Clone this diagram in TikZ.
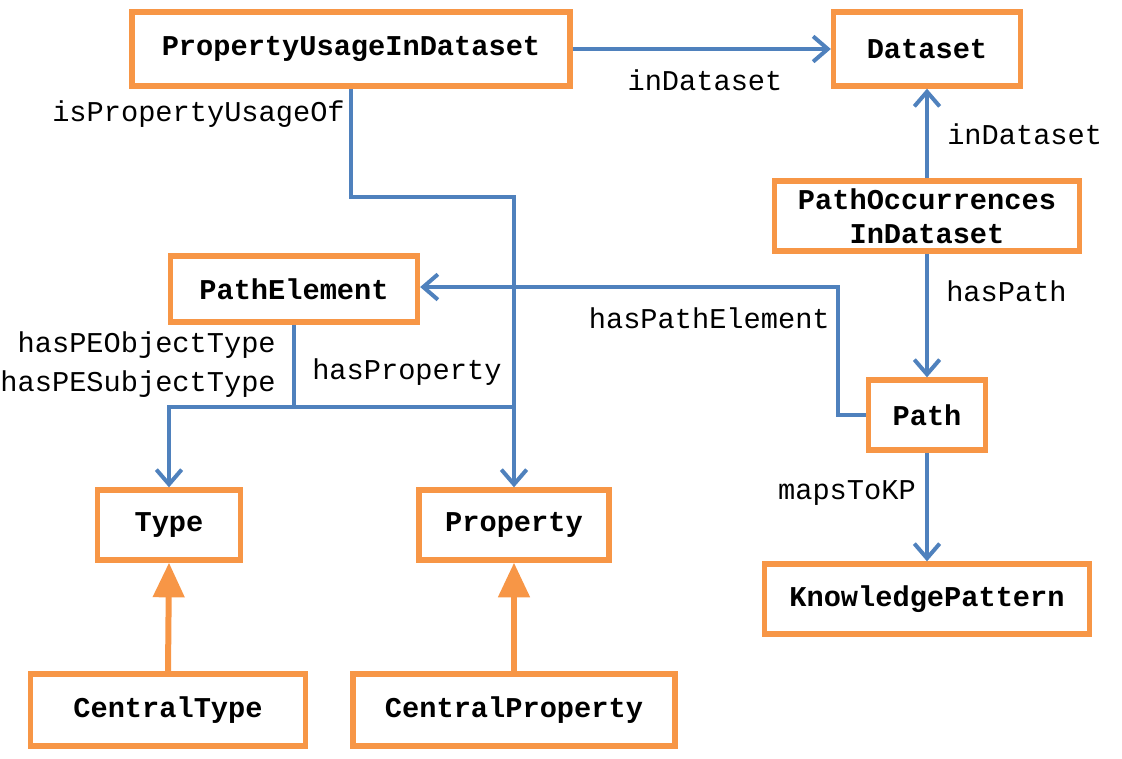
\documentclass[tikz,border=0pt]{standalone}
\usepackage{fontspec}
\setmonofont{Liberation Mono}
\usetikzlibrary{arrows.meta}
\definecolor{oboxc}{HTML}{F79646}
\definecolor{blinec}{HTML}{4F81BD}
\begin{document}
\begin{tikzpicture}[x=0.75pt,y=-0.75pt,
  cls/.style={draw=oboxc, line width=4pt, fill=white, inner sep=0pt, align=center,
    font=\ttfamily\bfseries\fontsize{21.5}{25.5}\selectfont},
  lbl/.style={inner sep=0pt, font=\ttfamily\fontsize{21.5}{25}\selectfont},
  rel/.style={draw=blinec, line width=3pt},
  barrow/.style={rel, -{Straight Barb[length=11pt,width=19pt]}},
  oarrow/.style={draw=oboxc, line width=4.5pt, -{Triangle[length=26pt,width=23pt]}}]
\useasboundingbox (0,0) rectangle (1122,758);

\node[cls, minimum width=438*0.75pt, minimum height=74*0.75pt] (puid) at (351,49) {PropertyUsageInDataset};
\node[cls, minimum width=187*0.75pt, minimum height=74*0.75pt] (ds) at (927,49) {Dataset};
\node[cls, minimum width=305*0.75pt, minimum height=70*0.75pt] (poid) at (927,216) {PathOccurrences\\InDataset};
\node[cls, minimum width=247*0.75pt, minimum height=66*0.75pt] (pe) at (294,289) {PathElement};
\node[cls, minimum width=117*0.75pt, minimum height=70*0.75pt] (path) at (927,415) {Path};
\node[cls, minimum width=143*0.75pt, minimum height=70*0.75pt] (type) at (169,525) {Type};
\node[cls, minimum width=190*0.75pt, minimum height=70*0.75pt] (prop) at (514,525) {Property};
\node[cls, minimum width=325*0.75pt, minimum height=70*0.75pt] (kp) at (927,599) {KnowledgePattern};
\node[cls, minimum width=275*0.75pt, minimum height=72*0.75pt] (ctype) at (168,710) {CentralType};
\node[cls, minimum width=322*0.75pt, minimum height=72*0.75pt] (cprop) at (514,710) {CentralProperty};

\coordinate (bend) at (514,197);
\coordinate (jL) at (169,407);
\coordinate (jR) at (514,407);
\coordinate (pk) at (838,287);

\draw[barrow] (puid.east) -- (ds.west);
\draw[barrow] (puid.south) |- (bend) -- (prop.north);
\draw[barrow] (poid.north) -- (ds.south);
\draw[barrow] (poid.south) -- (path.north);
\draw[barrow] (path.west) -| (pk) -- (pe.east |- pk);
\draw[rel] (pe.south) -- (pe.south |- jL);
\draw[barrow] (jR) -| (type.north);
\draw[barrow] (path.south) -- (kp.north);
\draw[oarrow] (ctype.north) -- (type.south);
\draw[oarrow] (cprop.north) -- (prop.south);

\node[lbl] (l1) at (705,80) {inDataset};
\node[lbl, anchor=east] (l2) at (345,114) {isPropertyUsageOf};
\node[lbl, anchor=west] (l3) at (947,134) {inDataset};
\node[lbl, anchor=west] (l4) at (946,291) {hasPath};
\node[lbl, anchor=east] (l5) at (830,318) {hasPathElement};
\node[lbl, anchor=east] (l6) at (276,345) {hasPEObjectType};
\node[lbl, anchor=east] (l7) at (276,384) {hasPESubjectType};
\node[lbl, anchor=west] (l8) at (312,372) {hasProperty};
\node[lbl, anchor=east] (l9) at (916,493) {mapsToKP};
\end{tikzpicture}
\end{document}
